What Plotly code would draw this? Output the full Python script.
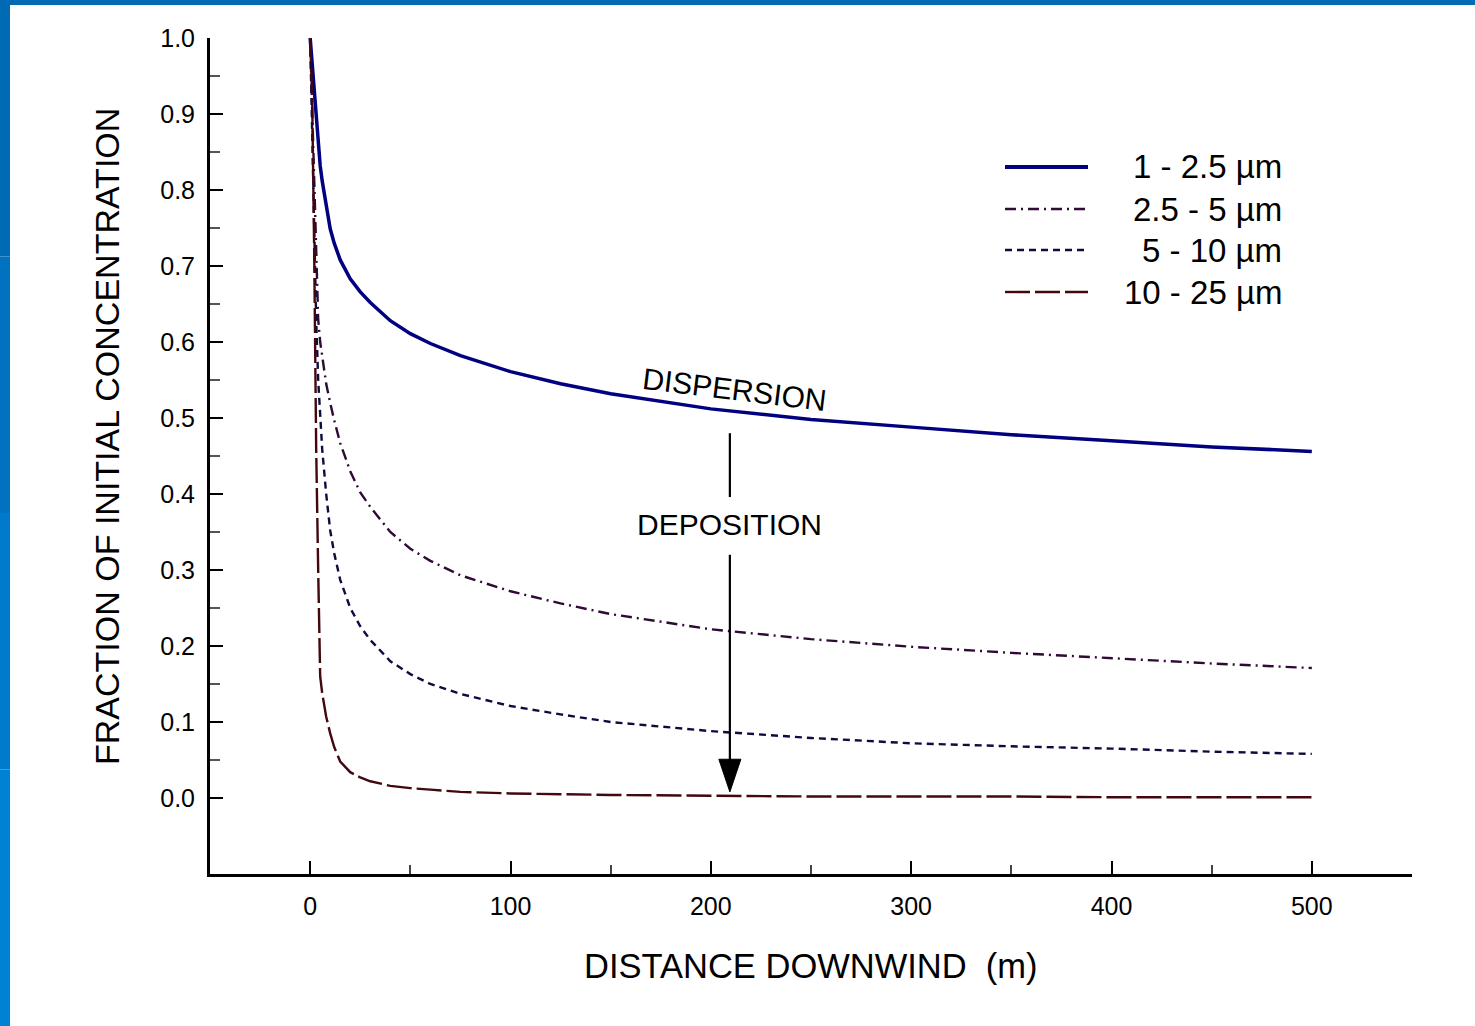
import plotly.graph_objects as go

# ---------------- data ----------------
distance_m = [0, 1, 2, 3, 4, 5, 6, 8, 10, 12, 15, 20, 25, 30, 40, 50, 60, 75,
              100, 125, 150, 200, 250, 300, 350, 400, 450, 500]

frac_1_2p5 = [1.000, 0.965, 0.930, 0.892, 0.855, 0.832, 0.812, 0.778, 0.749, 0.730,
              0.708, 0.683, 0.666, 0.652, 0.628, 0.611, 0.598, 0.582,
              0.561, 0.545, 0.532, 0.512, 0.498, 0.488, 0.478, 0.470, 0.462, 0.456]

frac_2p5_5 = [1.000, 0.900, 0.800, 0.710, 0.630, 0.600, 0.580, 0.545, 0.520, 0.497,
              0.467, 0.430, 0.402, 0.383, 0.350, 0.328, 0.312, 0.293,
              0.272, 0.256, 0.242, 0.222, 0.209, 0.199, 0.191, 0.184, 0.177, 0.171]

frac_5_10 = [1.000, 0.860, 0.740, 0.630, 0.550, 0.500, 0.459, 0.400, 0.352, 0.322,
             0.287, 0.250, 0.226, 0.208, 0.180, 0.163, 0.150, 0.137,
             0.121, 0.110, 0.100, 0.088, 0.079, 0.072, 0.068, 0.065, 0.061, 0.058]

frac_10_25 = [1.000, 0.920, 0.720, 0.460, 0.300, 0.160, 0.138, 0.107, 0.085, 0.067,
              0.048, 0.034, 0.027, 0.022, 0.016, 0.013, 0.011, 0.008,
              0.006, 0.005, 0.004, 0.003, 0.002, 0.002, 0.002, 0.001, 0.001, 0.001]

series_names = ["1 - 2.5 \u00b5m", "2.5 - 5 \u00b5m", "5 - 10 \u00b5m", "10 - 25 \u00b5m"]

x_tick_vals = [0, 100, 200, 300, 400, 500]
x_minor_vals = [50, 150, 250, 350, 450]
y_tick_vals = [0.0, 0.1, 0.2, 0.3, 0.4, 0.5, 0.6, 0.7, 0.8, 0.9, 1.0]
y_minor_vals = [0.05, 0.15, 0.25, 0.35, 0.45, 0.55, 0.65, 0.75, 0.85, 0.95]

arrow_x = 209.5

# ---------------- styling ----------------
FONT = "Liberation Sans, Arial, Helvetica, sans-serif"
styles = [
    dict(color="#000080", width=3.5, dash="solid"),
    dict(color="#2E0A34", width=2.4, dash="11px,5px,2px,5px"),
    dict(color="#0C0C40", width=2.4, dash="7px,5px"),
    dict(color="#42080E", width=2.4, dash="25px,5px"),
]
series_vals = [frac_1_2p5, frac_2p5_5, frac_5_10, frac_10_25]

fig = go.Figure()
for name, vals, st in zip(series_names, series_vals, styles):
    fig.add_trace(go.Scatter(x=distance_m, y=vals, mode="lines", name=name,
                             line=dict(color=st["color"], width=st["width"], dash=st["dash"]),
                             showlegend=False))

# plot area geometry (px) for paper conversion
L, R, T, B = 210, 63, 38, 152
W, H = 1475, 1026
PW, PH = W - L - R, H - T - B


def px_x(px):
    return (px - L) / PW


def px_y(py):
    return (H - B - py) / PH


shapes = []
# blue frame (left & top strips)
left_cols = ["#006AB4", "#0072C0", "#007ACA", "#0082D4"]
for i, c in enumerate(left_cols):
    shapes.append(dict(type="rect", xref="paper", yref="paper",
                       x0=px_x(0), x1=px_x(10),
                       y0=px_y(H * (i + 1) / 4), y1=px_y(H * i / 4),
                       fillcolor=c, line=dict(width=0), layer="above"))
shapes.append(dict(type="rect", xref="paper", yref="paper",
                   x0=px_x(0), x1=px_x(W), y0=px_y(5), y1=px_y(0),
                   fillcolor="#006AB4", line=dict(width=0), layer="above"))

# legend samples
legend_y_px = [167, 209, 250, 292]
for st, ly in zip(styles, legend_y_px):
    shapes.append(dict(type="line", xref="paper", yref="paper",
                       x0=px_x(1005), x1=px_x(1088), y0=px_y(ly), y1=px_y(ly),
                       line=dict(color=st["color"], width=4 if st["dash"] == "solid" else 2.4,
                                 dash=st["dash"])))

# deposition arrow
shapes.append(dict(type="line", xref="x", yref="y", x0=arrow_x, x1=arrow_x,
                   y0=0.480, y1=0.396, line=dict(color="black", width=2.2)))
shapes.append(dict(type="line", xref="x", yref="y", x0=arrow_x, x1=arrow_x,
                   y0=0.320, y1=0.045, line=dict(color="black", width=2.2)))
shapes.append(dict(type="path", xref="x", yref="y",
                   path=f"M {arrow_x - 5.5},0.051 L {arrow_x + 5.5},0.051 L {arrow_x},0.008 Z",
                   fillcolor="black", line=dict(color="black", width=1)))

annotations = []
for name, ly in zip(series_names, legend_y_px):
    annotations.append(dict(text=name, xref="paper", yref="paper",
                            x=px_x(1284), y=px_y(ly), xanchor="right", yanchor="middle",
                            showarrow=False, font=dict(family=FONT, size=33, color="black")))

annotations.append(dict(text="DISPERSION", xref="x", yref="y", x=(735 - 310) / 2.006, y=0.537,
                        textangle=7, showarrow=False,
                        font=dict(family=FONT, size=30, color="black")))
annotations.append(dict(text="DEPOSITION", xref="x", yref="y", x=arrow_x, y=0.360,
                        showarrow=False, font=dict(family=FONT, size=30, color="black")))
annotations.append(dict(text="FRACTION OF INITIAL CONCENTRATION", xref="paper", yref="paper",
                        x=px_x(107), y=px_y(437), xanchor="center", yanchor="middle",
                        textangle=-90, showarrow=False,
                        font=dict(family=FONT, size=34, color="black")))
annotations.append(dict(text="DISTANCE DOWNWIND&nbsp;&nbsp;(m)", xref="paper", yref="paper",
                        x=px_x(811), y=px_y(966), xanchor="center", yanchor="middle",
                        showarrow=False,
                        font=dict(family=FONT, size=34.5, color="black")))

fig.update_layout(
    width=W, height=H,
    margin=dict(l=L, r=R, t=T, b=B, pad=0),
    paper_bgcolor="white", plot_bgcolor="white",
    font=dict(family=FONT, color="black"),
    shapes=shapes, annotations=annotations,
    showlegend=False,
)

fig.update_xaxes(range=[-50, 550], showgrid=False, zeroline=False,
                 showline=True, linecolor="black", linewidth=3,
                 tickmode="array", tickvals=x_tick_vals,
                 ticks="inside", ticklen=13, tickwidth=2, tickcolor="black",
                 ticklabelstandoff=8,
                 tickfont=dict(family=FONT, size=25, color="black"),
                 minor=dict(tickmode="array", tickvals=x_minor_vals, ticks="inside",
                            ticklen=9, tickwidth=1.5, tickcolor="#444444", showgrid=False))

fig.update_yaxes(range=[-0.1, 1.0], showgrid=False, zeroline=False,
                 showline=True, linecolor="black", linewidth=3,
                 tickmode="array", tickvals=y_tick_vals, tickformat=".1f",
                 ticks="inside", ticklen=13, tickwidth=2, tickcolor="black",
                 ticklabelstandoff=7,
                 tickfont=dict(family=FONT, size=25, color="black"),
                 minor=dict(tickmode="array", tickvals=y_minor_vals, ticks="inside",
                            ticklen=10, tickwidth=1.5, tickcolor="#555555", showgrid=False))

fig.write_html("out.html", config={"displayModeBar": False},
               post_script="document.body.style.margin='0px';document.body.style.overflow='hidden';")
